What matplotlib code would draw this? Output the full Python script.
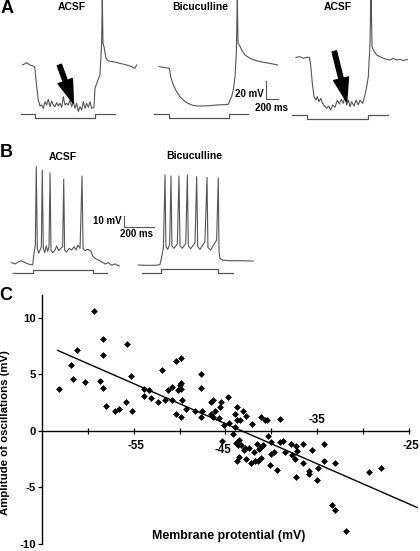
import numpy as np
import matplotlib
matplotlib.use('Agg')
import matplotlib.pyplot as plt

plt.rcParams['font.family'] = ['Liberation Sans', 'DejaVu Sans']
plt.rcParams['font.weight'] = 'bold'

W, H, DPI = 420, 551, 100
TRACE_COLOR = '#555555'

# ---------------- Panel A: membrane potential traces (ms, mV) ----------------
a1_t = [0, 64, 117, 171, 192, 224, 251, 277, 304, 330, 357, 384, 410, 437, 464, 490, 517, 544, 570, 597,
        624, 650, 677, 704, 730, 757, 784, 810, 837, 864, 890, 917, 944, 970, 997, 1023, 1050, 1077, 1103,
        1141, 1157, 1194, 1237, 1263, 1274, 1285, 1301, 1333, 1370, 1450, 1556, 1663, 1743, 1797, 1823]
a1_v = [-60, -57.5, -60, -61.1, -61.8, -83.6, -98.1, -104.6, -103.6, -107.2, -99.9, -103.6, -97.4, -105.4,
        -99.2, -103.6, -105.4, -101.0, -104.6, -101.7, -106.1, -94.5, -103.6, -101.7, -103.6, -98.1, -105.4,
        -99.9, -107.2, -101.7, -110.8, -105.4, -109.0, -99.9, -107.2, -101.7, -106.1, -99.9, -107.2,
        -106.1, -85.4, -78.2, -70.9, -36.4, 15, -36.4, -40.0, -52.7, -55.6, -56.4, -58.2, -60, -61.8, -63.6, -60]

a2_t = [0, 64, 160, 181, 224, 277, 331, 384, 437, 517, 597, 704, 811, 917, 1024, 1104, 1131, 1157, 1184,
        1211, 1232, 1248, 1259, 1280, 1317, 1371, 1451, 1557, 1664, 1771, 1888]
a2_v = [-60, -60.7, -61.8, -70.9, -80.0, -87.2, -92.7, -96.3, -99.2, -101.7, -102.8, -102.8, -102.4,
        -101.7, -101.4, -101.0, -96.3, -92.7, -85.4, -70.9, -45.5, 15, -34.6, -36.4, -41.8, -47.3, -50.9,
        -53.5, -55.3, -56.4, -58.2]

a3_t = [0, 64, 117, 171, 213, 235, 261, 288, 320, 341, 368, 395, 427, 464, 491, 523, 555, 587, 624, 661,
        693, 725, 757, 784, 811, 837, 864, 891, 928, 960, 997, 1024, 1067, 1104, 1131, 1157, 1184, 1200,
        1216, 1237, 1291, 1344, 1397, 1451, 1504, 1557, 1611, 1664, 1717, 1781]
a3_v = [-60, -59.3, -61.1, -60, -60, -68.3, -88.3, -102.8, -106.5, -102.8, -108.3, -104.6, -110.1, -113.7,
        -115.5, -113.0, -117.4, -111.9, -114.4, -106.5, -110.8, -105.7, -110.1, -102.8, -111.9, -106.5,
        -113.7, -108.3, -113.0, -106.5, -111.9, -106.5, -110.1, -101.0, -91.9, -81.1, -44.8, 15, -48.4,
        -52.0, -57.5, -59.3, -61.1, -62.2, -62.9, -61.1, -62.9, -62.2, -63.6, -62.2]

# current steps (ms, pA)
a1_stim_t = [-32, 197, 197, 1157, 1157, 1477]
a2_stim_t = [-85, 160, 160, 1120, 1120, 1424]
a3_stim_t = [-69, 171, 171, 1157, 1157, 1477]
a_stim_i = [0, 0, -100, -100, 0, 0]

# ---------------- Panel B ----------------
b1_t = [0, 22, 44, 67, 89, 111, 140, 149, 158, 164, 171, 180, 189, 198, 204, 211, 220, 231, 240, 249, 256,
        262, 273, 289, 300, 313, 327, 340, 347, 353, 367, 384, 400, 416, 429, 442, 456, 469, 476, 489, 504,
        527, 540, 556, 578, 600, 622, 644, 667, 689, 718]
b1_v = [-60, -61.2, -59.4, -58.2, -60, -61.2, -62.1, -51.5, -43.9, 27.3, -47.0, -51.5, -48.5, -45.5, 24.2,
        -47.0, -50.9, -44.8, -49.8, -45.5, 21.8, -48.5, -50.9, -48.5, -44.8, -49.1, -47.0, -45.5, 15.8,
        -48.5, -50.3, -47.0, -48.5, -45.5, -48.5, -44.0, -47.0, 18.8, -47.0, -49.1, -47.9, -49.1, -53.9,
        -56.1, -57.6, -59.1, -61.2, -60, -62.4, -61.2, -63.0]

b2_t = [0, 56, 111, 144, 156, 167, 178, 184, 196, 209, 218, 224, 238, 260, 271, 278, 293, 316, 327, 333,
        349, 378, 389, 396, 411, 444, 458, 464, 482, 522, 533, 538, 544, 562, 611, 678, 767]
b2_v = [-60, -60.3, -60.3, -59.7, -52.4, -44.8, 21.8, -43.3, -45.8, -40.9, 20.9, -42.7, -44.8, -40.9, 20.9,
        -42.7, -44.8, -40.3, 21.8, -42.7, -45.2, -39.7, 20.3, -43.3, -45.8, -38.8, 19.7, -44.0, -46.4,
        -37.3, 18.8, -47.9, -53.9, -55.5, -56.1, -56.1, -56.4]

b1_stim_t = [11, 144, 144, 540, 540, 633]
b2_stim_t = [22, 153, 153, 533, 533, 633]
b_stim_i = [0, 0, 100, 100, 0, 0]

# ---------------- Panel C: scatter ----------------
membrane_potential = [
    -63.2, -61.8, -61.6, -61.2, -60.3, -59.3, -58.7, -58.4, -58.4, -58.3,
    -58.0, -57.0, -56.6, -55.8, -55.7, -55.3, -55.2, -53.9, -53.9, -53.3,
    -53.1, -52.3, -51.9, -51.6, -51.3, -50.8, -50.8, -50.4, -50.4, -50.2,
    -50.0, -49.8, -49.8, -49.8, -49.7, -49.8, -49.3, -48.3, -47.7, -47.7,
    -47.7, -47.5, -46.6, -46.6, -46.3, -46.3, -46.1, -45.7, -45.6, -45.5,
    -45.1, -44.7, -44.6, -45.4, -44.2, -44.0, -43.9, -43.7, -43.7, -43.5,
    -43.8, -43.6, -43.4, -43.3, -43.7, -43.5, -43.1, -43.0, -42.9, -42.7,
    -42.8, -42.4, -42.2, -42.1, -41.9, -41.8, -41.6, -41.4, -41.3, -41.1,
    -41.1, -41.0, -40.9, -40.7, -40.5, -40.4, -40.1, -40.0, -40.0, -39.7,
    -39.4, -39.1, -39.0, -38.7, -38.5, -37.8, -37.7, -37.4, -37.3, -37.2,
    -37.3, -36.5, -36.5, -35.9, -35.9, -35.6, -35.0, -34.9, -34.3, -34.2,
    -33.4, -33.1, -33.0, -31.9, -29.3, -28.0]
oscillation_amplitude = [
    3.7, 5.8, 4.6, 7.1, 4.3, 10.6, 4.4, 8.1, 6.7, 3.8,
    2.2, 1.7, 1.9, 2.5, 7.7, 4.8, 1.7, 3.7, 3.1, 3.6,
    2.9, 2.5, 5.4, 2.7, 3.6, 3.9, 2.7, 6.2, 1.5, 3.6,
    4.0, 4.2, 6.4, 3.7, 2.7, 1.2, 1.9, 1.7, 5.0, 3.8,
    1.2, 1.7, 2.5, 1.5, 2.7, 1.2, 1.7, 1.1, 2.1, 2.5,
    0.5, 3.0, 0.7, -0.9, -0.3, 1.5, 0.3, 2.1, 0.9, -0.8,
    -1.1, -1.3, 0.9, -1.3, -2.7, -2.3, 1.7, -1.7, -1.5, 1.3,
    -2.5, -1.5, -2.9, 0.6, -1.9, -2.7, -1.2, -2.7, -1.6, 1.2,
    -2.4, -1.4, -1.3, 0.9, 0.9, -0.5, -3.0, -1.0, -2.1, -1.9,
    -3.5, 1.0, -1.0, -0.9, -1.9, -1.2, -2.2, -2.5, -1.4, -1.8,
    -4.1, -1.2, -2.9, -3.6, -3.8, -1.7, -4.4, -3.3, -1.2, -2.7,
    -6.6, -7.0, -2.9, -8.9, -3.7, -3.3]
fit_x = [-63.3, -24.1]
fit_y = [7.1, -6.8]
y_ticks = [10, 5, 0, -5, -10]
x_ticks = [-60, -55, -50, -45, -40, -35, -30, -25]
x_tick_labels = {-55: (-54.75, -1.4, 'center'), -45: (-45.3, -1.75, 'center'),
                 -35: (-35.0, 0.95, 'center'), -25: (-23.85, -1.4, 'right')}

fig = plt.figure(figsize=(W / DPI, H / DPI), dpi=DPI)


def fpos(x, y):
    return x / W, 1 - y / H


# ---------------- Panel C axes ----------------
C_BOTTOM, C_TOP = 547.0, 295.0
axc = fig.add_axes([42 / W, (H - C_BOTTOM) / H, (W - 42) / W, (C_BOTTOM - C_TOP) / H])
axc.set_xlim(-65, -65 + (W - 42) / 9.17)
axc.set_ylim(-10.3, 12.0)
axc.scatter(membrane_potential, oscillation_amplitude, marker='D', s=12, color='black', linewidths=0, zorder=3)
axc.plot(fit_x, fit_y, color='black', lw=1.0, clip_on=False)
for s in ['top', 'right']:
    axc.spines[s].set_visible(False)
axc.spines['left'].set_position(('data', -65))
axc.spines['left'].set_bounds(-10, 12)
axc.spines['bottom'].set_position(('data', 0))
axc.spines['bottom'].set_bounds(-65, -25)
for s in ['left', 'bottom']:
    axc.spines[s].set_linewidth(1.0)
axc.set_yticks(y_ticks)
axc.set_yticklabels([str(v) for v in y_ticks])
axc.tick_params(axis='y', direction='out', length=3, width=0.9, pad=1.5, labelsize=8.1)
axc.set_xticks(x_ticks)
axc.tick_params(axis='x', direction='inout', length=5, width=0.9, labelbottom=False)
for val, (tx, ty, ha) in x_tick_labels.items():
    axc.text(tx, ty, str(val), ha=ha, va='center', fontsize=8.3, fontweight='bold')
ch = C_BOTTOM - C_TOP
axc.set_xlabel('Membrane protential (mV)', fontsize=8.9, fontweight='bold')
axc.xaxis.set_label_coords((229 - 42) / (W - 42), (C_BOTTOM - 536) / ch)
axc.xaxis.label.set_va('center')
axc.set_ylabel('Amplitude of oscillations (mV)', fontsize=8.2, fontweight='bold')
axc.yaxis.set_label_coords((5 - 42) / (W - 42), (C_BOTTOM - 432.5) / ch)
axc.yaxis.label.set_va('center')
axc.patch.set_alpha(0)


# ---------------- overlay axes for traces ----------------
def overlay_ax(t0_px, anchor_px, anchor_val, ms_per_px, units_per_px):
    ax = fig.add_axes([0, 0, 1, 1], facecolor='none')
    ax.set_axis_off()
    ax.set_xlim(-t0_px * ms_per_px, (W - t0_px) * ms_per_px)
    ax.set_ylim(anchor_val - (H - anchor_px) * units_per_px, anchor_val + anchor_px * units_per_px)
    return ax


A_MS, A_MV, A_PA = 16.0, 1.089, 25.0
B_MS, B_MV, B_PA = 6.667, 0.909, 28.6

# Panel A
ax_a1 = overlay_ax(22.67, 65.0, -60, A_MS, A_MV)
ax_a1.plot(a1_t, a1_v, color=TRACE_COLOR, lw=0.8)
ax_a2 = overlay_ax(159.33, 66.67, -60, A_MS, A_MV)
ax_a2.plot(a2_t, a2_v, color=TRACE_COLOR, lw=0.8)
ax_a3 = overlay_ax(296.0, 57.33, -60, A_MS, A_MV)
ax_a3.plot(a3_t, a3_v, color=TRACE_COLOR, lw=0.8)

for t0, y0, st in [(22.67, 114.3, a1_stim_t), (159.33, 114.3, a2_stim_t), (296.0, 115.0, a3_stim_t)]:
    axs = overlay_ax(t0, y0, 0, A_MS, A_PA)
    axs.plot(st, a_stim_i, color=TRACE_COLOR, lw=0.9)

arrow_style = 'simple,head_length=0.85,head_width=0.55,tail_width=0.16'
ax_a1.annotate('', xy=(811, -101.7), xytext=(587, -60),
               arrowprops=dict(arrowstyle=arrow_style, color='black', mutation_scale=20, shrinkA=0, shrinkB=0))
ax_a3.annotate('', xy=(811, -108.3), xytext=(613, -53.5),
               arrowprops=dict(arrowstyle=arrow_style, color='black', mutation_scale=20, shrinkA=0, shrinkB=0))

# scale bar A (20 mV, 200 ms)
ax_a2.plot([1701, 1701, 1901], [-75.6, -95.6, -95.6], color=TRACE_COLOR, lw=0.8)
ax_a2.text(1670, -89.5, '20 mV', ha='right', va='center', fontsize=7, fontweight='bold')
ax_a2.text(1790, -104.8, '200 ms', ha='center', va='center', fontsize=7, fontweight='bold')

# Panel B
ax_b1 = overlay_ax(11.67, 262.67, -60, B_MS, B_MV)
ax_b1.plot(b1_t, b1_v, color=TRACE_COLOR, lw=0.8)
ax_b2 = overlay_ax(138.33, 265.0, -60, B_MS, B_MV)
ax_b2.plot(b2_t, b2_v, color=TRACE_COLOR, lw=0.8)
for t0, y0, st in [(11.67, 273.3, b1_stim_t), (138.33, 272.7, b2_stim_t)]:
    axs = overlay_ax(t0, y0, 0, B_MS, B_PA)
    axs.plot(st, b_stim_i, color=TRACE_COLOR, lw=0.9)

# scale bar B (10 mV, 200 ms)
ax_b1.plot([749, 749, 949], [-17.9, -27.9, -27.9], color=TRACE_COLOR, lw=0.8)
ax_b1.text(736, -21.8, '10 mV', ha='right', va='center', fontsize=7, fontweight='bold')
ax_b1.text(833, -33.5, '200 ms', ha='center', va='center', fontsize=7, fontweight='bold')

# panel letters and condition labels
for letter, (x, y) in {'A': (7, 8.5), 'B': (6, 152.5), 'C': (6, 295)}.items():
    fig.text(*fpos(x, y), letter, ha='center', va='center', fontsize=13, fontweight='bold')
for label, (x, y) in [('ACSF', (72, 7.5)), ('Bicuculline', (200, 7.5)), ('ACSF', (338, 7.5)),
                      ('ACSF', (63, 157)), ('Bicuculline', (194, 156))]:
    fig.text(*fpos(x, y), label, ha='center', va='center', fontsize=7.5, fontweight='bold')

fig.savefig('out.png', dpi=DPI)
